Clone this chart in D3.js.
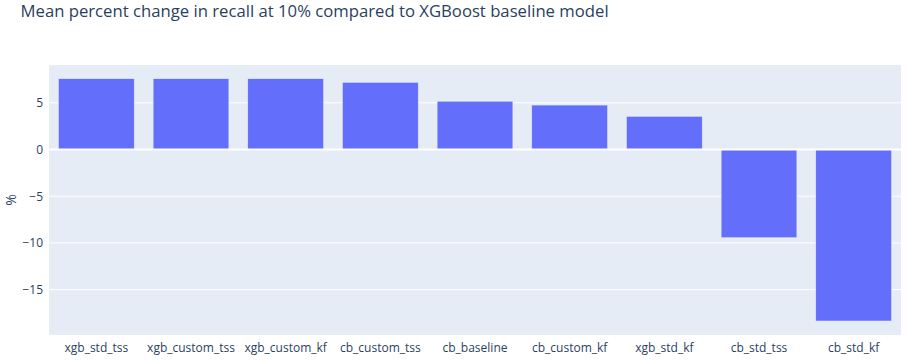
<!DOCTYPE html>
<html>
<head>
<meta charset="utf-8">
<script src="https://cdn.jsdelivr.net/npm/d3@7"></script>
<style>
  body { margin: 0; background: #fff; }
  text { font-family: "Open Sans", verdana, arial, sans-serif; }
</style>
</head>
<body>
<div class="canvas"></div>
<script>
// model names and mean percent change vs the XGBoost baseline
const models = ['xgb_std_tss', 'xgb_custom_tss', 'xgb_custom_kf', 'cb_custom_tss', 'cb_baseline',
    'cb_custom_kf', 'xgb_std_kf', 'cb_std_tss', 'cb_std_kf'];
const pctChange = [7.58, 7.58, 7.58, 7.19, 5.17, 4.76, 3.55, -9.44, -18.36];
const yTicks = [-15, -10, -5, 0, 5];
const yRange = [-19.86, 9.05];

const width = 909, height = 362;
const margin = {top: 65, right: 8, bottom: 27, left: 49};
const plotW = width - margin.left - margin.right;
const plotH = height - margin.top - margin.bottom;

const svg = d3.select('.canvas')
    .append('svg')
        .attr('width', width)
        .attr('height', height);

const x = d3.scaleBand()
    .domain(models)
    .range([0, plotW])
    .paddingInner(0.2)
    .paddingOuter(0.1);

const y = d3.scaleLinear()
    .domain(yRange)
    .range([plotH, 0]);

const graph = svg.append('g')
    .attr('transform', `translate(${margin.left}, ${margin.top})`);

// plot background
graph.append('rect')
    .attr('width', plotW)
    .attr('height', plotH)
    .attr('fill', '#E5ECF6');

// grid lines
graph.selectAll('line.grid')
    .data(yTicks.filter(t => t !== 0))
    .enter()
    .append('line')
    .attr('class', 'grid')
    .attr('x1', 0)
    .attr('x2', plotW)
    .attr('y1', d => y(d))
    .attr('y2', d => y(d))
    .attr('stroke', '#fff')
    .attr('stroke-width', 1);

// bars
graph.selectAll('rect.bar')
    .data(models)
    .enter()
    .append('rect')
    .attr('class', 'bar')
    .attr('x', d => x(d))
    .attr('width', x.bandwidth())
    .attr('y', (d, i) => y(Math.max(0, pctChange[i])))
    .attr('height', (d, i) => Math.abs(y(pctChange[i]) - y(0)))
    .attr('fill', '#636efa')
    .attr('stroke', '#E5ECF6')
    .attr('stroke-width', 0.5);

// zero line
graph.append('line')
    .attr('x1', 0)
    .attr('x2', plotW)
    .attr('y1', y(0))
    .attr('y2', y(0))
    .attr('stroke', '#fff')
    .attr('stroke-width', 2);

// y axis
const yAxis = d3.axisLeft(y)
    .tickValues(yTicks)
    .tickSize(0)
    .tickPadding(6)
    .tickFormat(d => d < 0 ? '\u2212' + Math.abs(d) : d);

const yG = graph.append('g').call(yAxis);
yG.select('.domain').remove();
yG.selectAll('text')
    .attr('font-size', 12)
    .attr('fill', '#2a3f5f')
    .attr('font-family', '"Open Sans", verdana, arial, sans-serif');

// x axis
const xAxis = d3.axisBottom(x)
    .tickSize(0)
    .tickPadding(8);

const xG = graph.append('g')
    .attr('transform', `translate(0, ${plotH})`)
    .call(xAxis);
xG.select('.domain').remove();
xG.selectAll('text')
    .attr('font-size', 12)
    .attr('fill', '#2a3f5f')
    .attr('font-family', '"Open Sans", verdana, arial, sans-serif');

// y axis title
svg.append('text')
    .attr('transform', `translate(15.5, ${margin.top + plotH / 2}) rotate(-90)`)
    .attr('text-anchor', 'middle')
    .attr('font-size', 14)
    .attr('fill', '#2a3f5f')
    .text('%');

// title
svg.append('text')
    .attr('x', 20.5)
    .attr('y', 17)
    .attr('font-size', 16.7)
    .attr('fill', '#2a3f5f')
    .text('Mean percent change in recall at 10% compared to XGBoost baseline model');
</script>
</body>
</html>
